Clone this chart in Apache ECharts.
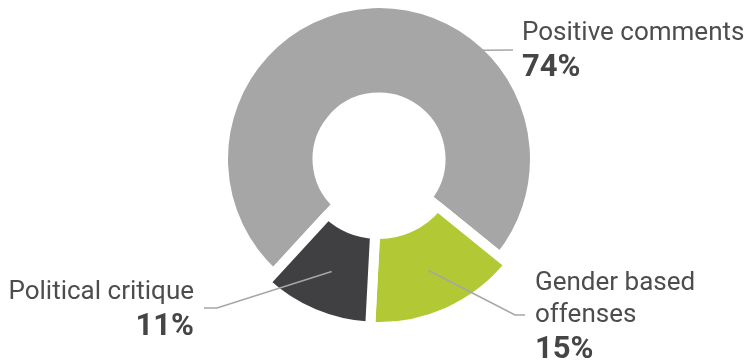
<!DOCTYPE html>
<html>
<head>
<meta charset="utf-8">
<script src="https://cdn.jsdelivr.net/npm/echarts@6/dist/echarts.min.js"></script>
<style>
  html, body { margin: 0; padding: 0; background: #fff; }
  #chart { width: 751px; height: 363px; }
</style>
</head>
<body>
<div id="chart"></div>
<script>
// Share of comments by type (percent)
const categories = ['Gender based offenses', 'Political critique', 'Positive comments'];
const labelNames = ['Gender based\noffenses', 'Political critique', 'Positive comments'];
const shares = [15, 11, 74];
const sliceColors = ['#b2c935', '#404042', '#a6a6a6'];
const pulledOut = [true, true, false];

const CENTER = [379, 159];
const START = -39;
const GAP = 10;

// Where each label block sits and how its leader line bends
const labelPlacement = [
  { x: 535, y: 267, align: 'left', bend: [515, 315], end: [525, 315] },
  { x: 194, y: 276, align: 'right', bend: [217, 308], end: [204, 308] },
  { x: 522, y: 17, align: 'left', bend: [513, 50], end: [513, 50] }
];

function ringData(showFn) {
  return categories.map((name, i) => {
    const visible = showFn(i);
    return {
      name: name,
      value: shares[i],
      itemStyle: visible
        ? { color: sliceColors[i], borderColor: '#ffffff', borderWidth: GAP }
        : { color: 'transparent', borderWidth: 0 }
    };
  });
}

function labelData(showFn) {
  return categories.map((name, i) => ({
    name: name,
    value: shares[i],
    label: { show: showFn(i) },
    labelLine: { show: showFn(i) }
  }));
}

const labelStyle = {
  show: true,
  position: 'outside',
  formatter: p => '{n|' + labelNames[p.dataIndex].split('\n').join('}\n{n|') + '}\n{v|' + p.value + '%}',
  rich: {
    n: { fontFamily: 'Roboto', fontSize: 26, lineHeight: 32, color: '#4d4d4d' },
    v: { fontFamily: 'Roboto', fontSize: 31, fontWeight: 'bold', lineHeight: 38, color: '#454545' }
  }
};

function layoutLabel(params) {
  const place = labelPlacement[params.dataIndex];
  const pts = params.labelLinePoints;
  if (!pts) return {};
  return {
    x: place.x,
    y: place.y,
    align: place.align,
    verticalAlign: 'top',
    labelLinePoints: [pts[0], place.bend, place.end]
  };
}

const leaderStyle = { show: true, lineStyle: { color: '#a6a6a6', width: 1.6 } };

const option = {
  animation: false,
  series: [
    {
      type: 'pie', silent: true, clockwise: true, startAngle: START,
      center: CENTER, radius: [61.5, 156], z: 1,
      label: { show: false }, labelLine: { show: false },
      emphasis: { disabled: true },
      data: ringData(i => !pulledOut[i])
    },
    {
      type: 'pie', silent: true, clockwise: true, startAngle: START,
      center: CENTER, radius: [75, 168], z: 1,
      label: { show: false }, labelLine: { show: false },
      emphasis: { disabled: true },
      data: ringData(i => pulledOut[i])
    },
    {
      // labels for the main ring, leader lines start mid-ring
      type: 'pie', silent: true, clockwise: true, startAngle: START,
      center: CENTER, radius: [0, 108], z: 5,
      avoidLabelOverlap: false,
      itemStyle: { color: 'transparent' },
      emphasis: { disabled: true },
      label: labelStyle, labelLine: leaderStyle,
      labelLayout: layoutLabel,
      data: labelData(i => !pulledOut[i])
    },
    {
      // labels for the pulled-out slices
      type: 'pie', silent: true, clockwise: true, startAngle: START,
      center: CENTER, radius: [0, 122], z: 5,
      avoidLabelOverlap: false,
      itemStyle: { color: 'transparent' },
      emphasis: { disabled: true },
      label: labelStyle, labelLine: leaderStyle,
      labelLayout: layoutLabel,
      data: labelData(i => pulledOut[i])
    }
  ]
};

const chart = echarts.init(document.getElementById('chart'), null, { renderer: 'canvas' });
chart.setOption(option);
</script>
</body>
</html>
